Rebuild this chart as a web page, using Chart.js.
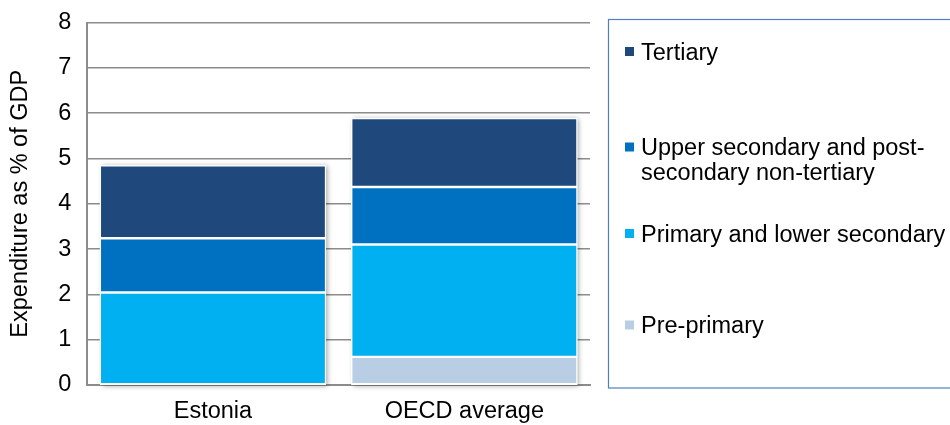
<!DOCTYPE html>
<html>
<head>
<meta charset="utf-8">
<script src="https://cdn.jsdelivr.net/npm/chart.js@4/dist/chart.umd.min.js"></script>
<style>
  html, body { margin: 0; padding: 0; background: #fff; }
  #wrap { width: 950px; height: 425px; position: relative; }
</style>
</head>
<body>
<div id="wrap"><canvas id="c" width="950" height="425"></canvas></div>
<script>
const categories = ["Estonia", "OECD average"];
const seriesNames = ["Pre-primary", "Primary and lower secondary", "Upper secondary and post-secondary non-tertiary", "Tertiary"];
const prePrimary = [null, 0.62];
const primaryLowerSecondary = [2.04, 2.48];
const upperSecondary = [1.20, 1.27];
const tertiary = [1.61, 1.52];
const yTicks = [0, 1, 2, 3, 4, 5, 6, 7, 8];
const legendLines = {
  "Tertiary": ["Tertiary"],
  "Upper secondary and post-secondary non-tertiary": ["Upper secondary and post-", "secondary non-tertiary"],
  "Primary and lower secondary": ["Primary and lower secondary"],
  "Pre-primary": ["Pre-primary"]
};
const colors = ["#B9CDE5", "#00B0F0", "#0070C0", "#1F497D"];

const FONT = "'Liberation Sans', Arial, sans-serif";
const FS = 23.5;

const barShadow = {
  id: 'barShadow',
  beforeDatasetsDraw(chart) {
    const ctx = chart.ctx;
    const y = chart.scales.y;
    const meta = chart.getDatasetMeta(1);
    ctx.save();
    meta.data.forEach((bar, i) => {
      let total = 0;
      chart.data.datasets.forEach(ds => { total += ds.data[i] || 0; });
      const top = y.getPixelForValue(total);
      const bottom = y.getPixelForValue(0);
      const w = bar.width;
      ctx.shadowColor = 'rgba(0,0,0,0.35)';
      ctx.shadowBlur = 5;
      ctx.shadowOffsetX = 2;
      ctx.shadowOffsetY = 1;
      ctx.fillStyle = '#ffffff';
      ctx.fillRect(bar.x - w / 2, top, w, bottom - top);
    });
    ctx.restore();
  }
};

const boxLegend = {
  id: 'boxLegend',
  afterDraw(chart) {
    const ctx = chart.ctx;
    ctx.save();
    ctx.strokeStyle = '#4F81BD';
    ctx.lineWidth = 1.2;
    ctx.strokeRect(608.5, 19.5, 400, 368.5);
    ctx.font = FS + 'px ' + FONT;
    ctx.fillStyle = '#000';
    ctx.textBaseline = 'alphabetic';
    const baselines = [59.5, 155, 241.5, 333];
    const ds = chart.data.datasets.slice().reverse();
    ds.forEach((d, k) => {
      const b = baselines[k];
      ctx.fillStyle = d.backgroundColor;
      ctx.fillRect(625, b - 12.5, 9, 9);
      ctx.fillStyle = '#000';
      const lines = legendLines[d.label] || [d.label];
      lines.forEach((t, j) => ctx.fillText(t, 641, b + j * 24.5));
    });
    ctx.restore();
  }
};

new Chart(document.getElementById('c'), {
  type: 'bar',
  data: {
    labels: categories,
    datasets: [prePrimary, primaryLowerSecondary, upperSecondary, tertiary].map((d, i) => ({
      label: seriesNames[i],
      data: d,
      backgroundColor: colors[i],
      borderColor: '#ffffff',
      borderWidth: 1.2,
      borderSkipped: false,
      categoryPercentage: 0.9,
      barPercentage: 1.0
    }))
  },
  options: {
    responsive: false,
    animation: false,
    devicePixelRatio: 1,
    layout: { padding: { left: 6, right: 360, top: 22.5, bottom: 0 } },
    plugins: { legend: { display: false }, tooltip: { enabled: false } },
    scales: {
      x: {
        stacked: true,
        grid: { display: false, drawTicks: false },
        border: { display: true, color: '#8C8C8C', width: 2 },
        ticks: { color: '#000', font: { family: FONT, size: FS }, padding: 12 },
        afterFit(axis) { axis.height = 40; axis.paddingLeft = 0; axis.paddingRight = 0; }
      },
      y: {
        stacked: true,
        min: 0, max: 8,
        afterBuildTicks(axis) { axis.ticks = yTicks.map(v => ({ value: v })); },
        afterFit(axis) { axis.paddingTop = 0; axis.paddingBottom = 0; },
        grid: { color: '#8C8C8C', lineWidth: 1.6, drawTicks: false },
        border: { display: true, color: '#8C8C8C', width: 2 },
        ticks: { color: '#000', font: { family: FONT, size: FS }, padding: 16 },
        title: { display: true, text: 'Expenditure as % of GDP', color: '#000', font: { family: FONT, size: FS }, padding: { top: 0, bottom: 8 } }
      }
    }
  },
  plugins: [barShadow, boxLegend]
});
</script>
</body>
</html>
